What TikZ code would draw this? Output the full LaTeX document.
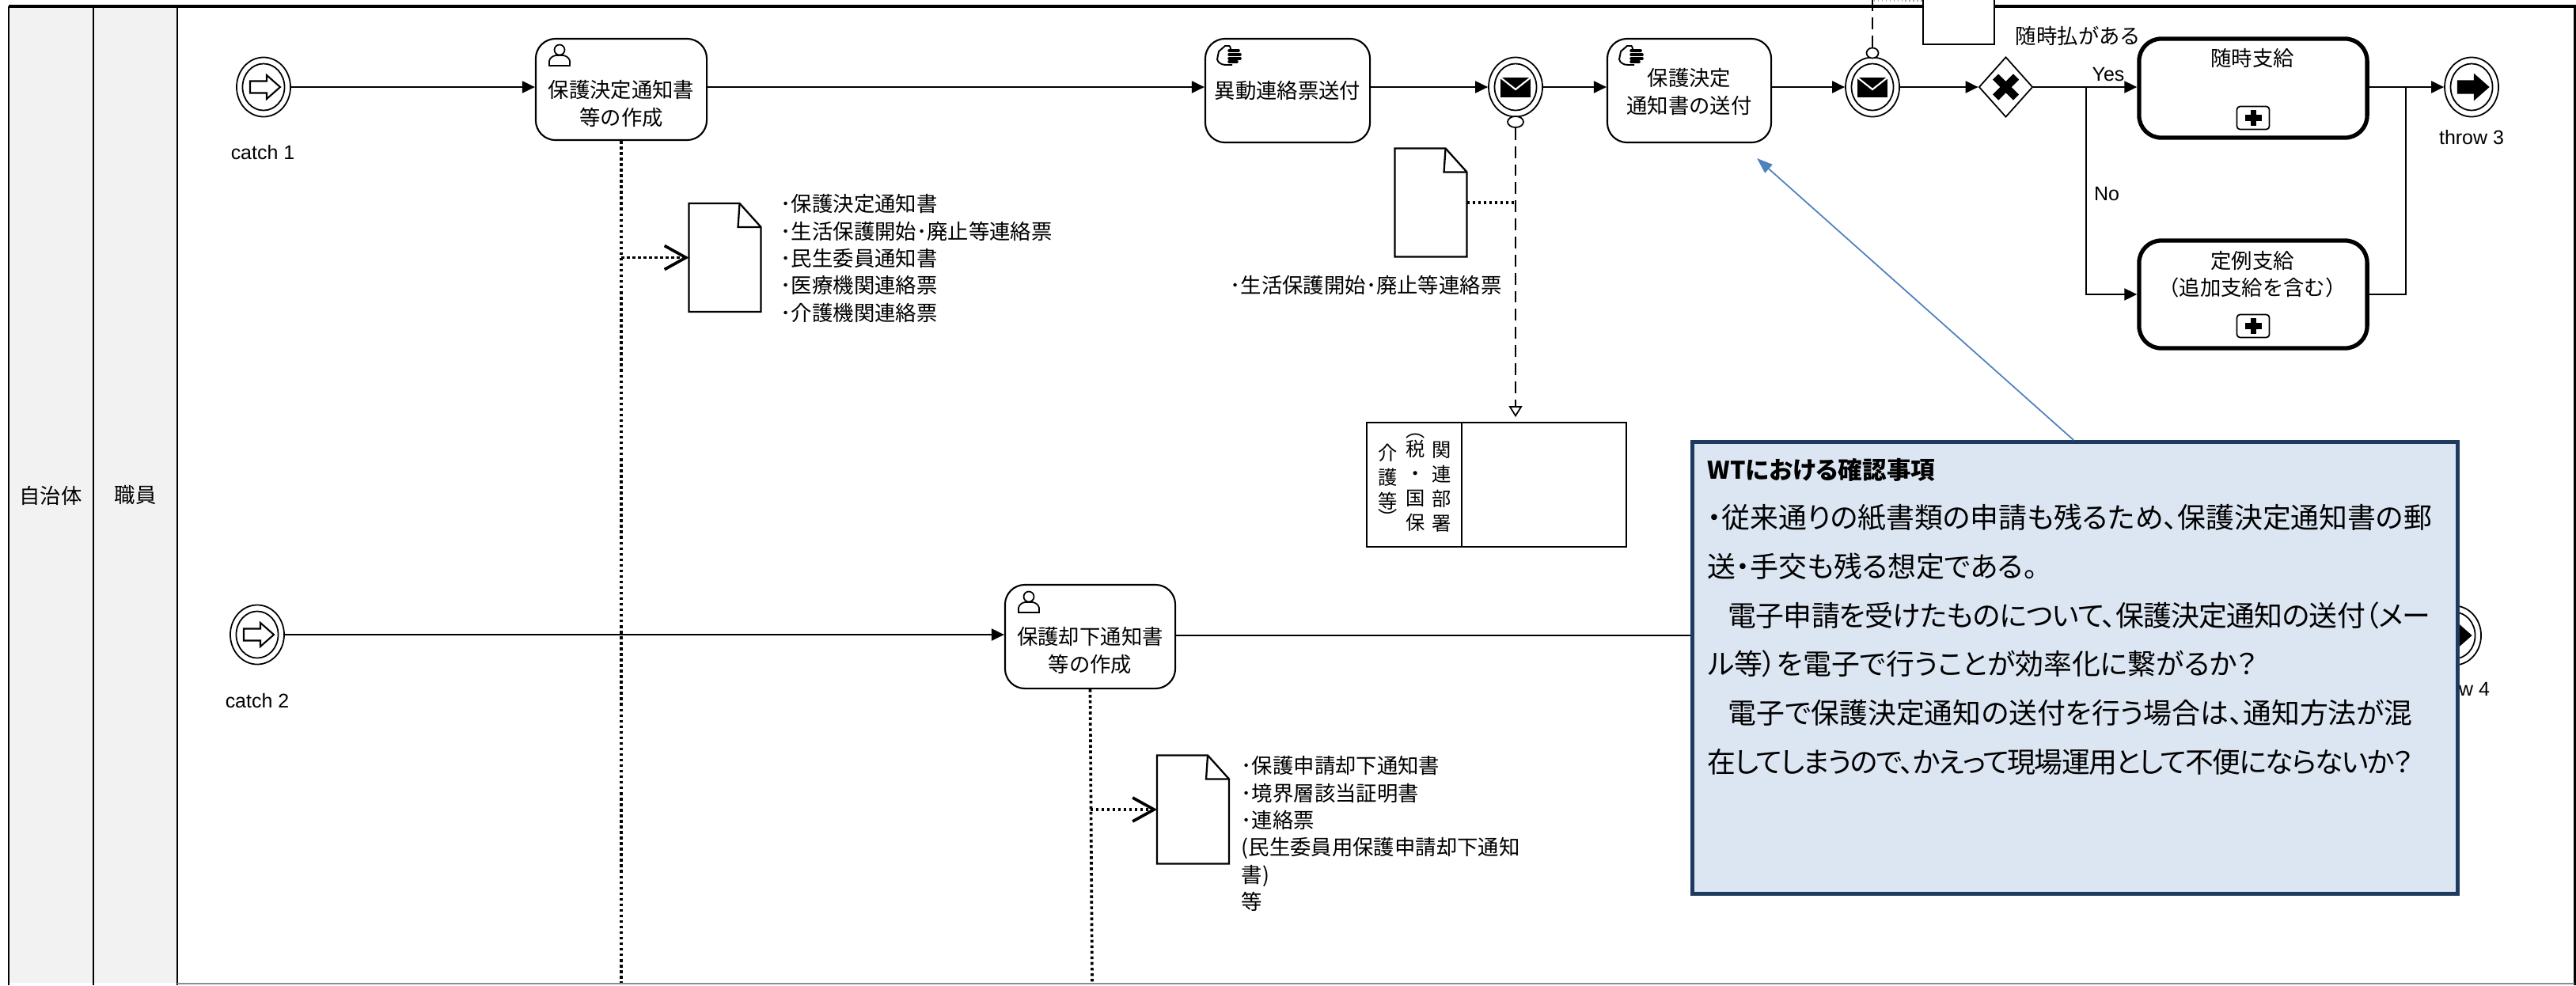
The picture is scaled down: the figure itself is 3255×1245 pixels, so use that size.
\documentclass[tikz,border=0pt]{standalone}
\usepackage{fontspec}
\setmainfont{Liberation Sans}
\newfontfamily\fuenteJP{Noto Sans CJK JP}
\newfontfamily\fuenteNota[RawFeature=+palt]{Noto Sans CJK JP}
\newfontfamily\fuenteNotaA[RawFeature=+palt, LetterSpace=-2]{Noto Sans CJK JP}
\newfontfamily\fuenteNotaB[RawFeature=+palt, LetterSpace=-5]{Noto Sans CJK JP}
\usetikzlibrary{arrows.meta, calc, shapes.geometric}
\definecolor{cCarril}{HTML}{F2F2F2}
\definecolor{cNota}{HTML}{DCE6F2}
\definecolor{cBorde}{HTML}{1F3A5F}
\definecolor{cAzul}{HTML}{4F81BD}
\tikzset{
    x=0.01cm, y=-0.01cm, font=\fuenteJP\fontsize{7.5}{9.75}\selectfont,
    lbl/.style={inner sep=0pt, align=center},
    lista/.style={inner sep=0pt, align=left, anchor=north west},
    latin/.style={inner sep=0pt, font=\rmfamily\fontsize{7.1}{9}\selectfont},
    vert/.style={inner sep=0pt, align=center, font=\fuenteJP\fontsize{6.9}{8.8}\selectfont},
    tarea/.style={draw, fill=white, rounded corners=0.25cm, line width=0.6pt, inner sep=0pt},
    subp/.style={draw, fill=white, rounded corners=0.28cm, line width=1.5pt, inner sep=0pt,
                 minimum width=2.88cm},
    evt/.style={draw, fill=white, ellipse, inner sep=0pt, line width=0.5pt,
                minimum width=0.68cm, minimum height=0.75cm},
    evtin/.style={draw, fill=white, ellipse, inner sep=0pt, line width=0.5pt,
                  minimum width=0.53cm, minimum height=0.59cm},
    anillo/.style={draw, fill=white, ellipse, inner sep=0pt, line width=0.5pt},
    puerta/.style={draw, fill=white, diamond, inner sep=0pt, line width=0.5pt,
                   minimum width=0.68cm, minimum height=0.76cm},
    mas/.style={draw, fill=white, rounded corners=0.04cm, inner sep=0pt, line width=0.5pt,
                minimum width=0.41cm, minimum height=0.29cm},
    hojabox/.style={inner sep=0pt, outer sep=0pt, minimum width=0.91cm, minimum height=1.37cm},
    hoja/.style={draw, fill=white, line width=0.65pt, line join=miter},
    flujo/.style={-{Triangle[length=0.16cm, width=0.15cm]}, line width=0.6pt},
    flujoraso/.style={line width=0.6pt},
    puntos/.style={line width=1.05pt, dash pattern=on 1pt off 1pt},
    puntosdoc/.style={puntos, -{Straight Barb[length=0.27cm, width=0.3cm]}},
    rayas/.style={line width=0.65pt, dash pattern=on 4.2pt off 2.3pt},
    msgflujo/.style={rayas, -{Triangle[open, fill=white, length=0.14cm, width=0.17cm, line width=0.5pt]},
                     shorten >=0.06cm},
    nota/.style={draw=cBorde, fill=cNota, line width=1.4pt, inner sep=0pt,
                 minimum width=9.66cm, minimum height=5.71cm},
    notaflecha/.style={-{Triangle[length=0.2cm, width=0.14cm]}, cAzul, line width=0.5pt},
    notatxt/.style={inner sep=0pt, align=left, anchor=north west,
                    font=\fuenteNota\fontsize{10.2}{17.6}\selectfont},
    notatit/.style={inner sep=0pt, anchor=west, font=\fuenteNota\bfseries\fontsize{8.7}{11}\selectfont},
}
\newcommand{\evento}[3]{%
    \node[evt] (#1) at (#2,#3) {};
    \node[evtin] (#1in) at (#1) {};
}
\newcommand{\flechaEvt}[2]{%
    \draw[#2, line width=0.6pt, shift={(#1)}] (-17,-7.5) -- (4,-7.5) -- (4,-15) -- (21,0)
        -- (4,15) -- (4,7.5) -- (-17,7.5) -- cycle;
}
\newcommand{\sobre}[1]{%
    \fill[shift={(#1)}] (-19,-12.5) rectangle (19,12.5);
    \draw[white, line width=0.6pt, shift={(#1)}] (-19,-12) -- (0,3) -- (19,-12);
}
\newcommand{\persona}[2]{%
    \begin{scope}[shift={(#1,#2)}, line width=0.5pt]
        \draw (0,-7) circle[radius=0.065cm];
        \draw (-13,13) -- (-13,7) .. controls (-12,3) and (-9,1) .. (-5,0) -- (5,0)
            .. controls (9,1) and (12,3) .. (13,7) -- (13,13) -- cycle;
    \end{scope}
}
\newcommand{\mano}[2]{%
    \begin{scope}[shift={(#1,#2)}, line width=0.55pt]
        \draw (2,-12) -- (-4,-12) -- (-12,-5) -- (-14,5) .. controls (-13,9) and (-9,12) .. (-3,12)
            -- (5,12);
        \draw (2,-12) -- (3,-8);
        \foreach \i/\j in {-6/13, -1/15, 4/15, 8/11} {
            \draw[line width=1pt, line cap=round] (1,\i) -- (\j,\i);
        }
    \end{scope}
}
\newcommand{\documento}[3]{%
    \node[hojabox] (#1) at (#2,#3) {};
    \draw[hoja] (#1.north west) -- ($(#1.north east)+(-27,0)$) -- ($(#1.north east)+(0,30)$)
        -- (#1.south east) -- (#1.south west) -- cycle;
    \draw[hoja, fill=none] ($(#1.north east)+(-27,0)$) -- ($(#1.north east)+(-29,30)$)
        -- ($(#1.north east)+(0,30)$);
}
\newcommand{\marcaMas}[1]{%
    \draw[line width=2pt] ($(#1)+(-10.5,0)$) -- ($(#1)+(10.5,0)$);
    \draw[line width=2pt] ($(#1)+(0,-10)$) -- ($(#1)+(0,10)$);
}

\begin{document}
\begin{tikzpicture}
    \useasboundingbox (0,0) rectangle (3255,1245);

    % swimlanes
    \fill[cCarril] (11,8) rectangle (224,1242);
    \draw[line width=0.85pt] (11,8) -- (11,1245);
    \draw[line width=0.85pt] (118,8) -- (118,1245);
    \draw[line width=0.85pt] (224,8) -- (224,1245);
    \draw[line width=0.85pt] (3253,8) -- (3253,1245);
    \draw[line width=0.5pt, black!45] (224,1243) -- (3253,1243);
    \draw[line width=1.1pt] (11,8) -- (3255,8);
    \node[lbl] (lblMuni) at (64,626) {自治体};
    \node[lbl] (lblStaff) at (171,626) {職員};

    % tasks
    \node[tarea, minimum width=2.16cm, minimum height=1.28cm] (taskA) at (785,113) {};
    \node[tarea, minimum width=2.08cm, minimum height=1.31cm] (taskB) at (1627,114.5) {};
    \node[tarea, minimum width=2.07cm, minimum height=1.31cm] (taskC) at (2134.5,114.5) {};
    \node[tarea, minimum width=2.15cm, minimum height=1.31cm] (taskD) at (1377.5,804.5) {};
    \node[subp, minimum height=1.25cm] (taskE) at (2847,111.5) {};
    \node[subp, minimum height=1.36cm] (taskF) at (2847,372) {};
    \node[lbl] (txtA) at (785,131) {保護決定通知書\\等の作成};
    \node[lbl] (txtB) at (1627,115) {異動連絡票送付};
    \node[lbl] (txtC) at (2134.5,116) {保護決定\\通知書の送付};
    \node[lbl] (txtD) at (1377.5,822) {保護却下通知書\\等の作成};
    \node[lbl] (txtE) at (2846,74) {随時支給};
    \node[lbl] (txtF) at (2846,347) {定例支給\\（追加支給を含む）};
    \persona{707}{70}
    \mano{1552}{70}
    \mano{2060}{70}
    \persona{1300}{761}
    \node[mas] (masE) at (2847,149) {};
    \marcaMas{masE}
    \node[mas] (masF) at (2847,412) {};
    \marcaMas{masF}

    % events
    \evento{catchA}{333}{110}
    \flechaEvt{catchA}{fill=white}
    \evento{catchB}{325}{802}
    \flechaEvt{catchB}{fill=white}
    \evento{msgA}{1915}{110}
    \sobre{msgA}
    \evento{msgB}{2366}{110}
    \sobre{msgB}
    \evento{throwA}{3123}{110}
    \flechaEvt{throwA}{fill=black}
    \evento{throwB}{3101}{803}
    \flechaEvt{throwB}{fill=black}
    \node[puerta] (gate) at (2534.5,110) {};
    \draw[line width=2.9pt] ($(gate)+(-13,-13)$) -- ($(gate)+(13,13)$);
    \draw[line width=2.9pt] ($(gate)+(-13,13)$) -- ($(gate)+(13,-13)$);
    \node[anillo, minimum width=0.2cm, minimum height=0.14cm] (anilloA) at (1915,154) {};
    \node[anillo, minimum width=0.15cm, minimum height=0.13cm] (anilloB) at (2366,67) {};

    \node[latin] (lblCatchA) at (332,193) {catch 1};
    \node[latin] (lblCatchB) at (325,886) {catch 2};
    \node[latin] (lblThrowA) at (3123,174) {throw 3};
    \node[latin] (lblThrowB) at (3105,871) {throw 4};

    % sequence flows
    \draw[flujo] (catchA.east) -- (catchA.east -| taskA.west);
    \draw[flujo] (taskA.east |- catchA.east) -- (catchA.east -| taskB.west);
    \draw[flujo] (taskB.east |- msgA.west) -- (msgA.west);
    \draw[flujo] (msgA.east) -- (msgA.east -| taskC.west);
    \draw[flujo] (taskC.east |- msgB.west) -- (msgB.west);
    \draw[flujo] (msgB.east) -- (gate.west);
    \draw[flujo] (gate.east) -- (gate.east -| taskE.west);
    \coordinate (ramaNo) at (2636,110);
    \draw[flujo] (ramaNo) |- (taskF.west);
    \coordinate (ramaFin) at (3040,110);
    \draw[flujo] (taskE.east |- throwA.west) -- (throwA.west);
    \draw[flujoraso] (taskF.east) -| (ramaFin);
    \draw[flujo] (catchB.east) -- (catchB.east -| taskD.west);
    \draw[flujo] (taskD.east |- throwB.west) -- (throwB.west);

    \node[latin] (lblSi) at (2664,94) {Yes};
    \node[latin] (lblNo) at (2662,245) {No};
    \node[lbl] (lblGate) at (2626,45) {随時払がある};

    % data objects
    \documento{docA}{916}{325.5}
    \documento{docB}{1808}{256}
    \documento{docC}{1507.5}{1023}
    \coordinate (finA) at (785,1242);
    \coordinate (finD) at (1380,1242);
    \draw[puntos] (taskA.south) -- (finA);
    \draw[puntos] (taskD.south) -- (finD);
    \draw[puntosdoc] (docA.west -| taskA.south) -- (docA.west);
    \draw[puntosdoc] (docC.west -| taskD.south) -- (docC.west);
    \draw[puntos] (docB.east) -- (docB.east -| anilloA.south);
    \node[lista] (listaA) at (986,245) {･保護決定通知書\\･生活保護開始･廃止等連絡票\\･民生委員通知書\\･医療機関連絡票\\･介護機関連絡票};
    \node[lbl] (listaB) at (1726,360) {･生活保護開始･廃止等連絡票};
    \node[lista] (listaC) at (1568,955) {･保護申請却下通知書\\･境界層該当証明書\\･連絡票\\(民生委員用保護申請却下通知\\書)\\等};

    % other department
    \node[draw, inner sep=0pt, line width=0.5pt, minimum width=3.28cm, minimum height=1.57cm] (depto) at (1891,612.5) {};
    \node[draw, inner sep=0pt, line width=0.5pt, minimum width=1.2cm, minimum height=1.57cm] (deptoTit) at (1787,612.5) {};
    \node[vert] (vertA) at (1822,615) {関\\連\\部\\署};
    \node[vert] (vertB) at (1789,610) {︵\\[-2pt]税\\・\\国\\保};
    \node[vert] (vertC) at (1754,612) {介\\護\\等\\[-3pt]︶};
    \draw[msgflujo] (anilloA.south) -- (anilloA.south |- depto.north);

    % message from above
    \coordinate (arribaB) at (2366,0);
    \draw[rayas] (anilloB.north) -- (arribaB);
    \coordinate (arribaDoc) at (2430,1);
    \draw[black!35, line width=0.4pt, densely dotted] (2368,1) -- (arribaDoc);
    \filldraw[hoja] (2430,0) -- (2430,56) -- (2520,56) -- (2520,0);

    % review note
    \node[nota, anchor=north west] (nota) at (2136,556) {};
    \node[notatit] (notaTit) at (2157,594) {WTにおける確認事項};
    \node[notatxt] (notaTxt) at (2157,636) {・従来通りの紙書類の申請も残るため、保護決定通知書の郵\\送・手交も残る想定である。\\　\kern-0.1cm{\fuenteNotaA 電子申請を受けたものについて、保護決定通知の送付（メー}\\ル等）を電子で行うことが効率化に繋がるか？\\　\kern-0.1cm電子で保護決定通知の送付を行う場合は、通知方法が混\\{\fuenteNotaB 在してしまうので、かえって現場運用として不便にならないか？}};
    \coordinate (notaPie) at (2620,556);
    \coordinate (notaPunta) at (2220,200);
    \draw[notaflecha] (notaPie) -- (notaPunta);
\end{tikzpicture}
\end{document}
